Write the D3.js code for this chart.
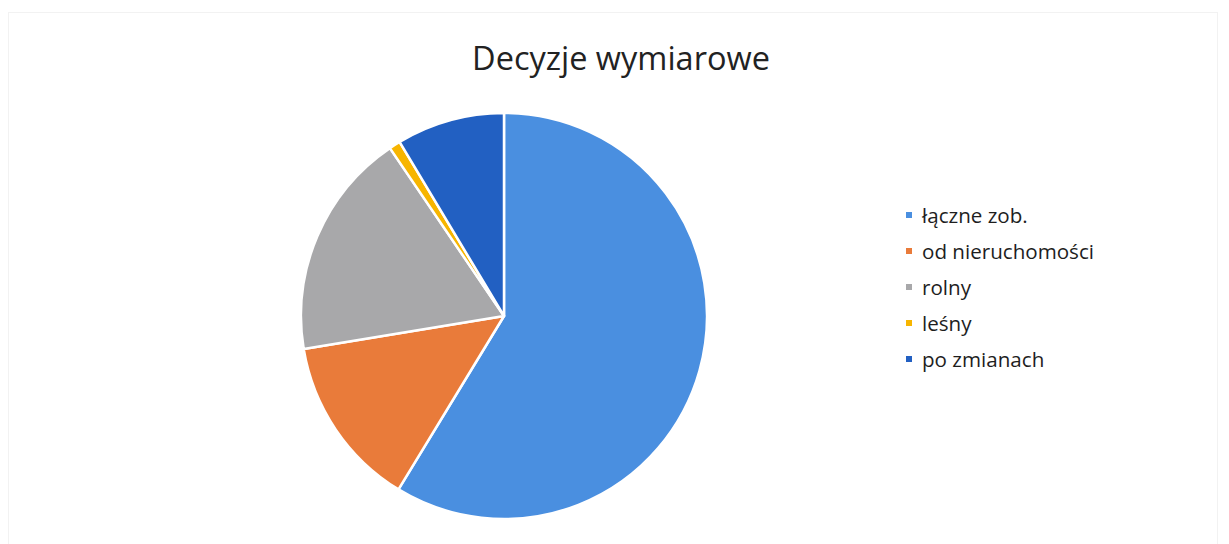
<!DOCTYPE html>
<html lang="pl">
  <head>
    <meta charset="UTF-8" />
    <title>Decyzje wymiarowe</title>
    <style>
      body {
        margin: 0;
        background: #fff;
        font-family: "Open Sans", "Noto Sans", sans-serif;
      }
      svg {
        display: block;
      }
    </style>
  </head>
  <body>
    <svg id="chart" width="1229" height="544"></svg>
    <script src="https://cdn.jsdelivr.net/npm/d3@7/dist/d3.min.js"></script>
    <script>
      // values (share of the pie, in %)
      const categories = ["łączne zob.", "od nieruchomości", "rolny", "leśny", "po zmianach"];
      const values = [58.7, 13.7, 18.1, 0.9, 8.6];
      const colors = ["#4a8fe0", "#e97b3a", "#a8a8aa", "#f7b500", "#2260c2"];

      const svg = d3.select("#chart");
      const width = 1229;
      const height = 544;

      // faint chart frame, as in the scan
      svg
        .append("rect")
        .attr("x", 8.5)
        .attr("y", 12.5)
        .attr("width", width - 20)
        .attr("height", height - 10)
        .attr("fill", "none")
        .attr("stroke", "#f2f2f2")
        .attr("stroke-width", 1);

      svg
        .append("text")
        .attr("x", 621)
        .attr("y", 70)
        .attr("text-anchor", "middle")
        .style("font-size", "32.5px")
        .style("fill", "#222")
        .text("Decyzje wymiarowe");

      const cx = 504;
      const cy = 316;
      const radius = 203;

      const pie = d3.pie().sort(null).value((d) => d);
      const arc = d3.arc().innerRadius(0).outerRadius(radius);

      const g = svg.append("g").attr("transform", `translate(${cx},${cy})`);

      g.selectAll("path")
        .data(pie(values))
        .enter()
        .append("path")
        .attr("d", arc)
        .attr("fill", (d, i) => colors[i])
        .attr("stroke", "#fff")
        .attr("stroke-width", 2.5)
        .attr("stroke-linejoin", "round");

      const legend = svg
        .append("g")
        .attr("transform", "translate(906,215)");

      const item = legend
        .selectAll("g")
        .data(categories)
        .enter()
        .append("g")
        .attr("transform", (d, i) => `translate(0,${i * 36})`);

      item
        .append("rect")
        .attr("x", 0)
        .attr("y", -3)
        .attr("width", 6)
        .attr("height", 6)
        .attr("fill", (d, i) => colors[i]);

      item
        .append("text")
        .attr("x", 16)
        .attr("dy", "0.38em")
        .style("font-size", "20.6px")
        .style("fill", "#1e1e1e")
        .text((d) => d);
    </script>
  </body>
</html>
